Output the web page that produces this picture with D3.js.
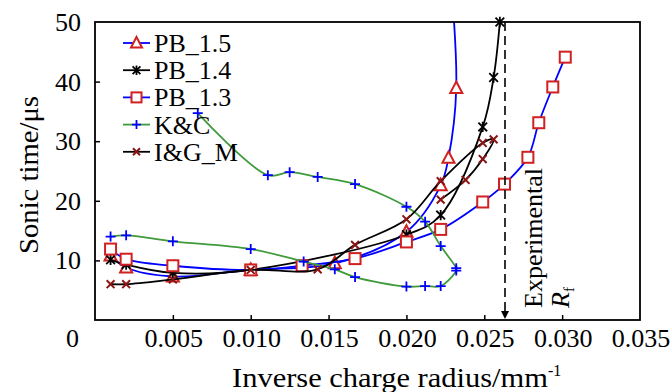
<!DOCTYPE html>
<html>
<head>
<meta charset="utf-8">
<script src="https://cdn.jsdelivr.net/npm/d3@7"></script>
<style>
  html, body { margin: 0; padding: 0; background: #fff; }
  svg { display: block; }
  text { font-family: "Liberation Serif", "Times New Roman", serif; fill: #000; }
</style>
</head>
<body>
<svg id="chart" width="672" height="392"></svg>
<script>
// ---------------- data ----------------
const seriesNames = ["PB_1.5", "PB_1.4", "PB_1.3", "K&C", "I&G_M"];

const pb15X = [0.001, 0.002, 0.005, 0.010, 0.0154, 0.0200, 0.0222, 0.0227, 0.0232, 0.0227];
const pb15Y = [10.8, 8.8, 7.3, 8.4, 9.5, 14.8, 22.6, 27.2, 38.9, 62.0];

const pb14X = [0.001, 0.002, 0.005, 0.010, 0.0200, 0.0222, 0.0249, 0.0256, 0.0260];
const pb14Y = [10.1, 9.3, 7.9, 8.4, 14.3, 17.6, 32.4, 40.7, 50.0];

const pb13X = [0.001, 0.002, 0.005, 0.010, 0.0133, 0.0167, 0.0200, 0.0222, 0.0249, 0.0263, 0.0278, 0.0285, 0.0294, 0.0302];
const pb13Y = [11.9, 10.2, 9.1, 8.4, 9.1, 10.3, 13.1, 15.2, 19.8, 22.8, 27.3, 33.1, 39.1, 44.1];

const kcX = [0.001, 0.002, 0.005, 0.010, 0.0134, 0.0154, 0.0167, 0.0200, 0.0212, 0.0222, 0.0232, 0.0232, 0.0222, 0.0212, 0.0200, 0.0167, 0.0143, 0.0125, 0.0111, 0.0066];
const kcY = [14.0, 14.2, 13.2, 11.9, 9.8, 8.5, 7.2, 5.6, 5.7, 5.7, 8.3, 8.7, 12.4, 16.5, 19.0, 22.8, 24.0, 24.8, 24.3, 34.7];

const igX = [0.001, 0.002, 0.005, 0.010, 0.0143, 0.0167, 0.0200, 0.0222, 0.0249, 0.0256, 0.0249, 0.0238, 0.0222];
const igY = [6.0, 6.0, 6.8, 8.4, 8.5, 12.6, 16.9, 23.3, 29.7, 30.3, 27.0, 23.5, 20.2];

const xTicks = [0.005, 0.010, 0.015, 0.020, 0.025, 0.030, 0.035];
const yTicks = [10, 20, 30, 40, 50];
const xLabel = "Inverse charge radius/mm";
const yLabel = "Sonic time/μs";
const rfValue = 0.02633;
const rfText1 = "Experimental";
const rfText2 = "R";

// ---------------- setup ----------------
const svg = d3.select("#chart");
const W = 672, H = 392;
const m = { left: 95, right: 32, top: 22, bottom: 72 };
const x = d3.scaleLinear().domain([0, 0.035]).range([m.left, W - m.right]);
const y = d3.scaleLinear().domain([0, 50]).range([H - m.bottom, m.top]);

const RED = "#d02020", BLUE = "#0000ff", GREEN = "#3f9a3a", DKRED = "#8b1414";

const zip = (xs, ys) => xs.map((v, i) => [v, ys[i]]);
const series = [
  { name: seriesNames[0], data: zip(pb15X, pb15Y), line: BLUE, marker: "triangle", mcol: RED },
  { name: seriesNames[1], data: zip(pb14X, pb14Y), line: "#000", marker: "star", mcol: "#000" },
  { name: seriesNames[2], data: zip(pb13X, pb13Y), line: BLUE, marker: "square", mcol: RED },
  { name: seriesNames[3], data: zip(kcX, kcY), line: GREEN, marker: "plus", mcol: BLUE },
  { name: seriesNames[4], data: zip(igX, igY), line: "#000", marker: "cross", mcol: DKRED }
];

svg.append("defs").append("clipPath").attr("id", "plotclip")
  .append("rect").attr("x", m.left).attr("y", m.top)
  .attr("width", W - m.left - m.right).attr("height", H - m.top - m.bottom);

// ---------------- axes ----------------
const xAxis = d3.axisBottom(x).tickValues(xTicks.slice(0, -1)).tickSizeInner(-5).tickSizeOuter(0).tickFormat("");
svg.append("g").attr("transform", `translate(0,${y(0)})`).call(xAxis)
  .call(g => g.select(".domain").remove())
  .call(g => g.selectAll("line").attr("stroke", "#000").attr("stroke-width", 1.5));
const yAxis = d3.axisLeft(y).tickValues(yTicks.slice(0, -1)).tickSizeInner(-5).tickSizeOuter(0).tickFormat("");
svg.append("g").attr("transform", `translate(${x(0)},0)`).call(yAxis)
  .call(g => g.select(".domain").remove())
  .call(g => g.selectAll("line").attr("stroke", "#000").attr("stroke-width", 1.5));

// tick labels
svg.append("g").selectAll("text").data(xTicks).join("text")
  .attr("x", d => x(d) + 1).attr("y", y(0) + 27)
  .attr("text-anchor", "middle").attr("font-size", 26)
  .text(d => d3.format(".3f")(d));
svg.append("g").selectAll("text").data(yTicks).join("text")
  .attr("x", x(0) - 14).attr("y", d => y(d) + 9)
  .attr("text-anchor", "end").attr("font-size", 26)
  .text(d => d);
svg.append("text").attr("x", x(0) - 16).attr("y", y(0) + 27)
  .attr("text-anchor", "end").attr("font-size", 26).text("0");

// axis titles
const xt = svg.append("text").attr("x", 232).attr("y", H - 5)
  .attr("font-size", 28);
xt.append("tspan").attr("textLength", 316).attr("lengthAdjust", "spacingAndGlyphs").text(xLabel);
xt.append("tspan").attr("dy", -11).attr("font-size", 16).text("-1");

svg.append("text")
  .attr("transform", `translate(38,175) rotate(-90)`)
  .attr("text-anchor", "middle").attr("font-size", 28)
  .attr("textLength", 158).attr("lengthAdjust", "spacingAndGlyphs")
  .text(yLabel);

// ---------------- marker shapes ----------------
function drawMarker(g, type, col, s) {
  if (type === "triangle") {
    g.append("path").attr("d", `M0,${-s * 0.6}L${s * 0.55},${s * 0.45}L${-s * 0.55},${s * 0.45}Z`)
      .attr("fill", "#fff").attr("stroke", col).attr("stroke-width", 2);
  } else if (type === "square") {
    g.append("rect").attr("x", -s / 2).attr("y", -s / 2).attr("width", s).attr("height", s)
      .attr("fill", "#fff").attr("stroke", col).attr("stroke-width", 2);
  } else if (type === "plus") {
    const h = s / 2;
    g.append("path").attr("d", `M${-h},0H${h}M0,${-h}V${h}`).attr("stroke", col).attr("stroke-width", 1.8);
  } else if (type === "cross") {
    const h = s / 2.3;
    g.append("path").attr("d", `M${-h},${-h}L${h},${h}M${-h},${h}L${h},${-h}`).attr("stroke", col).attr("stroke-width", 2);
  } else if (type === "star") {
    const h = s / 2.3;
    g.append("path").attr("d", `M${-h},${-h}L${h},${h}M${-h},${h}L${h},${-h}M0,${-h * 1.2}V${h * 1.2}`)
      .attr("stroke", col).attr("stroke-width", 1.8);
  }
}
const msize = { triangle: 11, square: 11, plus: 10, cross: 9, star: 10 };

// ---------------- series ----------------
const line = d3.line().x(d => x(d[0])).y(d => y(d[1])).curve(d3.curveCatmullRom.alpha(0.5));
const plot = svg.append("g");
series.forEach(s => {
  plot.append("path").datum(s.data).attr("d", line)
    .attr("fill", "none").attr("stroke", s.line).attr("stroke-width", 1.8)
    .attr("clip-path", "url(#plotclip)");
  plot.append("g").selectAll("g").data(s.data.filter(d => d[1] <= 50)).join("g")
    .attr("transform", d => `translate(${x(d[0])},${y(d[1])})`)
    .each(function () { drawMarker(d3.select(this), s.marker, s.mcol, msize[s.marker]); });
});

// plot frame
svg.append("rect").attr("x", x(0)).attr("y", y(50))
  .attr("width", x(0.035) - x(0)).attr("height", y(0) - y(50))
  .attr("fill", "none").attr("stroke", "#000").attr("stroke-width", 1.8);

// ---------------- experimental Rf ----------------
svg.append("line").attr("x1", x(rfValue)).attr("x2", x(rfValue))
  .attr("y1", y(50)).attr("y2", y(0) - 8)
  .attr("stroke", "#000").attr("stroke-width", 1.6).attr("stroke-dasharray", "9,5");
svg.append("path")
  .attr("d", `M${x(rfValue) - 4},${y(0) - 9}L${x(rfValue) + 4},${y(0) - 9}L${x(rfValue)},${y(0) - 1}Z`)
  .attr("fill", "#000");
svg.append("text")
  .attr("transform", `translate(${x(rfValue) + 37},${y(0) - 12}) rotate(-90)`)
  .attr("font-size", 26).text(rfText1);
const rt = svg.append("text")
  .attr("transform", `translate(${x(rfValue) + 64},${y(0) - 12}) rotate(-90)`)
  .attr("font-size", 26);
rt.append("tspan").attr("font-style", "italic").text(rfText2);
rt.append("tspan").attr("font-size", 15).attr("dy", 5).text("f");

// ---------------- legend ----------------
const lg = svg.append("g").attr("transform", "translate(123,43)");
series.forEach((s, i) => {
  const row = lg.append("g").attr("transform", `translate(0,${i * 27.2})`);
  row.append("line").attr("x1", 0).attr("x2", 27).attr("y1", 0).attr("y2", 0)
    .attr("stroke", s.line).attr("stroke-width", 1.8);
  drawMarker(row.append("g").attr("transform", "translate(13.5,0)"), s.marker, s.mcol, msize[s.marker] - 1);
  row.append("text").attr("x", 31).attr("y", 9).attr("font-size", 26).text(s.name);
});
</script>
</body>
</html>
